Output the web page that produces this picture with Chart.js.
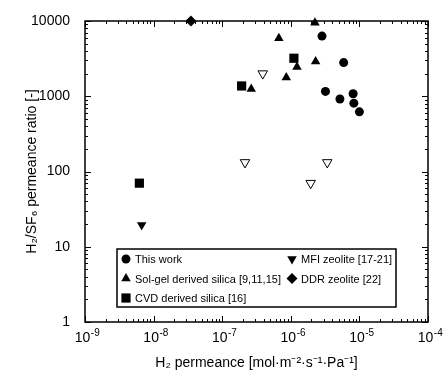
<!DOCTYPE html>
<html>
<head>
<meta charset="utf-8">
<script src="https://cdn.jsdelivr.net/npm/chart.js@4"></script>
<style>
  html, body { margin: 0; padding: 0; background: #fff; }
  #wrap { width: 446px; height: 380px; }
</style>
</head>
<body>
<div id="wrap"><canvas id="permChart"></canvas></div>
<script>
// Data (H2 permeance, H2/SF6 ratio)
const thisWorkX = [2.85e-6, 5.9e-6, 3.2e-6, 5.2e-6, 8.1e-6, 8.3e-6, 1.0e-5];
const thisWorkY = [6300, 2800, 1160, 920, 1080, 810, 620];

const solGelX = [2.25e-6, 6.7e-7, 2.3e-6, 1.23e-6, 8.6e-7, 2.65e-7];
const solGelY = [9500, 5900, 2900, 2450, 1780, 1250];

const cvdX = [6.2e-9, 1.92e-7, 1.11e-6];
const cvdY = [70, 1370, 3200];

const mfiX = [6.7e-9];
const mfiY = [19.5];

const openTriX = [3.9e-7, 2.15e-7, 3.4e-6, 1.95e-6];
const openTriY = [2000, 132, 132, 70];

const ddrX = [3.5e-8];
const ddrY = [10000];

const xTickPowers = [-9, -8, -7, -6, -5, -4];
const yTickPowers = [0, 1, 2, 3, 4];

const FONT = "'Liberation Sans', Arial, sans-serif";

function pts(xs, ys) {
  return xs.map((x, i) => ({ x: x, y: ys[i] }));
}

function logTicks(powers) {
  const out = [];
  for (let p = powers[0]; p <= powers[powers.length - 1]; p++) {
    for (let m = 1; m <= 9; m++) {
      if (p === powers[powers.length - 1] && m > 1) break;
      out.push({ value: m * Math.pow(10, p) });
    }
  }
  return out;
}

function isMajor(v) {
  const l = Math.log10(v);
  return Math.abs(l - Math.round(l)) < 1e-6;
}

// inward ticks on all four sides plus the frame
const frameTicks = {
  id: 'frameTicks',
  afterDatasetsDraw(chart) {
    const { ctx, chartArea: a, scales } = chart;
    ctx.save();
    ctx.strokeStyle = '#000';
    ctx.lineWidth = 1;
    ctx.beginPath();
    scales.x.ticks.forEach(t => {
      const px = Math.round(scales.x.getPixelForValue(t.value)) + 0.5;
      const len = isMajor(t.value) ? 6 : 3;
      ctx.moveTo(px, a.bottom); ctx.lineTo(px, a.bottom - len);
      ctx.moveTo(px, a.top); ctx.lineTo(px, a.top + len);
    });
    scales.y.ticks.forEach(t => {
      const py = Math.round(scales.y.getPixelForValue(t.value)) + 0.5;
      const len = isMajor(t.value) ? 6 : 3;
      ctx.moveTo(a.left, py); ctx.lineTo(a.left + len, py);
      ctx.moveTo(a.right, py); ctx.lineTo(a.right - len, py);
    });
    ctx.stroke();
    ctx.lineWidth = 1.5;
    ctx.strokeRect(a.left, a.top, a.right - a.left, a.bottom - a.top);
    ctx.restore();
  }
};

// x tick labels as 10 with a raised exponent
const powerLabels = {
  id: 'powerLabels',
  afterDraw(chart) {
    const { ctx, chartArea: a, scales } = chart;
    ctx.save();
    ctx.fillStyle = '#000';
    ctx.textBaseline = 'alphabetic';
    scales.x.ticks.forEach(t => {
      if (!isMajor(t.value)) return;
      const exp = String(Math.round(Math.log10(t.value)));
      const px = scales.x.getPixelForValue(t.value);
      ctx.font = '14px ' + FONT;
      const wb = ctx.measureText('10').width;
      ctx.font = '10px ' + FONT;
      const we = ctx.measureText(exp).width;
      const x0 = px - (wb + we) / 2 + 2;
      ctx.font = '14px ' + FONT;
      ctx.fillText('10', x0, a.bottom + 20);
      ctx.font = '10px ' + FONT;
      ctx.fillText(exp, x0 + wb + 0.5, a.bottom + 14);
    });
    ctx.restore();
  }
};

function drawMarker(ctx, style, x, y, r, fill) {
  ctx.beginPath();
  if (style === 'circle') {
    ctx.arc(x, y, r, 0, Math.PI * 2);
  } else if (style === 'rect') {
    const s = r * Math.SQRT1_2;
    ctx.rect(x - s, y - s, 2 * s, 2 * s);
  } else if (style === 'rectRot') {
    ctx.moveTo(x, y - r); ctx.lineTo(x + r, y); ctx.lineTo(x, y + r); ctx.lineTo(x - r, y);
    ctx.closePath();
  } else if (style === 'triangle' || style === 'triangleDown') {
    const d = style === 'triangle' ? 1 : -1;
    ctx.moveTo(x, y - d * r);
    ctx.lineTo(x + r * 0.866, y + d * r * 0.5);
    ctx.lineTo(x - r * 0.866, y + d * r * 0.5);
    ctx.closePath();
  }
  ctx.fillStyle = fill;
  ctx.fill();
}

// boxed two-column legend inside the plot area
const boxLegend = {
  id: 'boxLegend',
  afterDraw(chart) {
    const { ctx, chartArea: a } = chart;
    const bx = a.left + 32, by = a.top + 228, bw = 279, bh = 58;
    ctx.save();
    ctx.fillStyle = '#fff';
    ctx.fillRect(bx, by, bw, bh);
    ctx.strokeStyle = '#000';
    ctx.lineWidth = 1.5;
    ctx.strokeRect(bx, by, bw, bh);
    ctx.font = '11px ' + FONT;
    ctx.textBaseline = 'middle';
    const items = [
      ['circle', 'This work', 0, 0, 4.5],
      ['triangle', 'Sol-gel derived silica [9,11,15]', 0, 1, 5.5],
      ['rect', 'CVD derived silica [16]', 0, 2, 6.5],
      ['triangleDown', 'MFI zeolite [17-21]', 1, 0, 5.5],
      ['rectRot', 'DDR zeolite [22]', 1, 1, 5.5]
    ];
    items.forEach(([st, label, col, row, r]) => {
      const sx = bx + (col ? 175 : 9);
      const sy = by + 10 + row * 19.5;
      drawMarker(ctx, st, sx, sy, r, '#000');
      ctx.fillStyle = '#000';
      ctx.fillText(label, sx + 9, sy + 1);
    });
    ctx.restore();
  }
};

const common = { showLine: false, borderColor: '#000', backgroundColor: '#000', borderWidth: 0, clip: false };

new Chart(document.getElementById('permChart'), {
  type: 'scatter',
  data: {
    datasets: [
      { ...common, label: 'This work', data: pts(thisWorkX, thisWorkY), pointStyle: 'circle', pointRadius: 4.5 },
      { ...common, label: 'Sol-gel derived silica [9,11,15]', data: pts(solGelX, solGelY), pointStyle: 'triangle', pointRadius: 5.5 },
      { ...common, label: 'CVD derived silica [16]', data: pts(cvdX, cvdY), pointStyle: 'rect', pointRadius: 6.5 },
      { ...common, label: 'MFI zeolite [17-21]', data: pts(mfiX, mfiY), pointStyle: 'triangle', rotation: 180, pointRadius: 5.5 },
      { ...common, label: 'unlabelled', data: pts(openTriX, openTriY), pointStyle: 'triangle', rotation: 180, pointRadius: 5.5,
        backgroundColor: '#fff', borderWidth: 1 },
      { ...common, label: 'DDR zeolite [22]', data: pts(ddrX, ddrY), pointStyle: 'rectRot', pointRadius: 5.5 }
    ]
  },
  options: {
    responsive: true,
    maintainAspectRatio: false,
    animation: false,
    layout: { padding: { left: 0, top: 21, right: 18, bottom: 0 } },
    plugins: { legend: { display: false }, tooltip: { enabled: false } },
    scales: {
      x: {
        type: 'logarithmic',
        min: 1e-9, max: 1e-4,
        afterBuildTicks: s => { s.ticks = logTicks(xTickPowers); },
        afterFit: s => { s.height = 58; },
        grid: { display: false },
        border: { display: false },
        ticks: { display: false },
        title: {
          display: true, text: 'H\u2082 permeance [mol\u00B7m\u207B\u00B2\u00B7s\u207B\u00B9\u00B7Pa\u207B\u00B9]',
          color: '#000', font: { family: FONT, size: 14 }, padding: { top: 0, bottom: 8 }
        }
      },
      y: {
        type: 'logarithmic',
        min: 1, max: 10000,
        afterBuildTicks: s => { s.ticks = logTicks(yTickPowers); },
        afterFit: s => { s.width = 85; },
        grid: { display: false },
        border: { display: false },
        ticks: {
          autoSkip: false, padding: 7, color: '#000',
          font: { family: FONT, size: 14 },
          callback: v => isMajor(v) ? String(Math.round(v)) : ''
        },
        title: {
          display: true, text: 'H\u2082/SF\u2086 permeance ratio [-]',
          color: '#000', font: { family: FONT, size: 14 }, padding: { top: 24, bottom: 0 }
        }
      }
    }
  },
  plugins: [frameTicks, powerLabels, boxLegend]
});
</script>
</body>
</html>
